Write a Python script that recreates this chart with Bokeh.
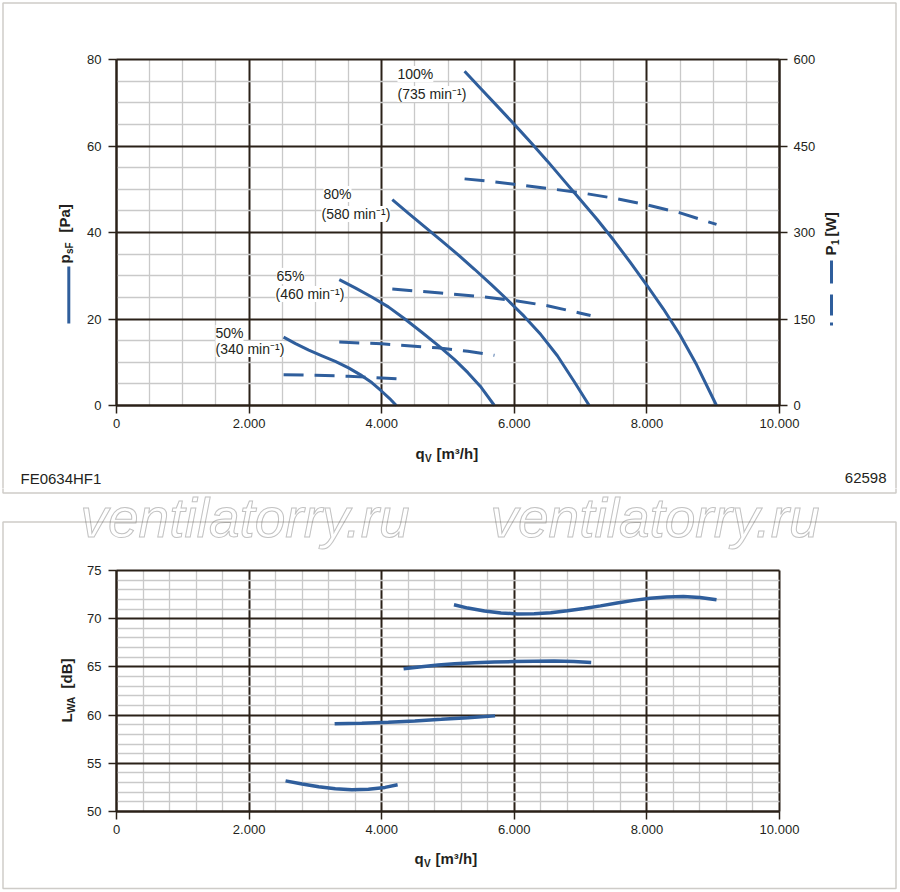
import math
from bokeh.plotting import figure
from bokeh.models import Range1d, LinearAxis, FixedTicker, Label, BoxAnnotation, Grid
from bokeh.layouts import column
from bokeh.embed import file_html
from bokeh.resources import INLINE

# ---------------- data ----------------
QV_TICKS = [0, 2000, 4000, 6000, 8000, 10000]
QV_TICK_LABELS = ["0", "2.000", "4.000", "6.000", "8.000", "10.000"]
PSF_TICKS = [0, 20, 40, 60, 80]
P1_TICKS = [0, 150, 300, 450, 600]
LWA_TICKS = [50, 55, 60, 65, 70, 75]

speed_labels = ["100%", "80%", "65%", "50%"]
rpm_labels = ["(735 min\u207b\u00b9)", "(580 min\u207b\u00b9)", "(460 min\u207b\u00b9)", "(340 min\u207b\u00b9)"]

# static pressure psF [Pa]
q_p100 = [5250, 5500, 5750, 6000, 6250, 6500, 6750, 7000, 7250, 7500, 7750, 8000, 8250, 8500, 8750, 9050]
p_p100 = [77.3, 73.2, 69.1, 65.0, 60.8, 56.5, 52.0, 47.5, 43.0, 38.2, 33.1, 27.8, 22.3, 16.3, 9.4, 0.0]
q_p80 = [4160, 4400, 4650, 4900, 5150, 5400, 5650, 5900, 6150, 6400, 6650, 6900, 7130]
p_p80 = [47.6, 44.5, 41.3, 38.1, 34.9, 31.5, 28.0, 24.4, 20.6, 16.4, 11.5, 5.6, 0.0]
q_p65 = [3360, 3600, 3850, 4100, 4350, 4600, 4850, 5100, 5300, 5500, 5700]
p_p65 = [29.1, 27.2, 25.1, 22.8, 20.0, 17.0, 13.9, 10.6, 7.6, 4.2, 0.0]
q_p50 = [2520, 2700, 2900, 3100, 3300, 3500, 3700, 3850, 4000, 4120, 4220]
p_p50 = [15.8, 14.3, 12.8, 11.5, 10.2, 8.7, 6.9, 5.3, 3.3, 1.6, 0.0]

# power input P1 [W]
q_w100 = [5250, 5600, 6000, 6500, 7000, 7500, 8000, 8500, 9050]
w_100 = [393, 389, 383.5, 376.5, 369, 359.5, 348, 334, 314]
q_w80 = [4160, 4890, 5500, 6000, 6500, 7000, 7150]
w_80 = [202, 195, 189, 182, 173, 160, 156]
q_w65 = [3360, 4000, 4840, 5300, 5700]
w_65 = [110, 107, 100, 94, 87]
q_w50 = [2520, 3000, 3500, 4240]
w_50 = [53.5, 52.3, 50.8, 46.2]

# sound power LWA [dB]
q_l100 = [5090, 5300, 5550, 5800, 6050, 6300, 6550, 6800, 7050, 7300, 7550, 7800, 8050, 8300, 8550, 8800, 9050]
l_100 = [71.45, 71.1, 70.8, 70.6, 70.5, 70.52, 70.62, 70.82, 71.05, 71.33, 71.62, 71.9, 72.12, 72.26, 72.3, 72.2, 71.96]
q_l80 = [4330, 4600, 4850, 5100, 5400, 5700, 6000, 6300, 6600, 6900, 7160]
l_80 = [64.8, 65.02, 65.2, 65.32, 65.42, 65.5, 65.55, 65.59, 65.6, 65.55, 65.46]
q_l65 = [3290, 3700, 4100, 4500, 4900, 5300, 5710]
l_65 = [59.09, 59.15, 59.25, 59.4, 59.56, 59.73, 59.92]
q_l50 = [2550, 2800, 3050, 3300, 3550, 3800, 4050, 4240]
l_50 = [53.18, 52.85, 52.57, 52.37, 52.26, 52.3, 52.5, 52.77]

# ---------------- style / geometry ----------------
DARK = "#2a2118"
LIGHT = "#c9c9c9"
BLUE = "#2f5e9c"
TXT = "#231f20"
BORDER = "#5e5648"
FONT = "Liberation Sans"

W = 898                  # figure width (page px)
H1 = 488                 # top figure height
Y2, H2 = 488, 402        # bottom figure top and height (page px)
FX0, FX1 = 116, 779      # chart area x (page px)
TSHIFT = 0.4             # baseline correction for text labels (fraction of font size)


def dx(px):
    return (px - FX0) / (FX1 - FX0) * 10000


def dy1(py):
    return (405 - py) / 346 * 80


def dw(py):
    return (405 - py) / 346 * 600


def dy2(py):
    return 50 + (811 - py) / 241 * 25


HAS_CB = "cross_bounds" in Grid.properties()


def style_axis(ax, ticks, labels, standoff, bounds, loc):
    ax.fixed_location = loc
    ax.bounds = bounds
    ax.ticker = FixedTicker(ticks=ticks)
    ax.major_label_overrides = {t: l for t, l in zip(ticks, labels)}
    ax.axis_line_color = DARK
    ax.axis_line_width = 2
    ax.major_tick_line_color = DARK
    ax.major_tick_line_width = 1.5
    ax.major_tick_out = 8
    ax.major_tick_in = 0
    ax.minor_tick_line_color = None
    ax.major_label_text_font = FONT
    ax.major_label_text_font_size = "13px"
    ax.major_label_text_color = TXT
    ax.major_label_standoff = standoff


def style_grid(g, ticks, minor, bounds, cross):
    g.ticker = FixedTicker(ticks=ticks, minor_ticks=minor)
    g.bounds = bounds
    if HAS_CB:
        g.cross_bounds = cross
    g.grid_line_color = DARK
    g.grid_line_width = 2
    g.minor_grid_line_color = LIGHT
    g.minor_grid_line_width = 1.3


def label(p, fy, text, px, py, size, bold=False, rotated=False, align="left", bg=None,
          style=None, color=TXT, outline=None):
    if rotated:
        px -= TSHIFT * size
    else:
        py -= TSHIFT * size
    p.add_layout(Label(x=dx(px), y=fy(py), text=text, text_font=FONT, text_font_size=f"{size}px",
                       text_font_style=style or ("bold" if bold else "normal"),
                       text_color=color, text_outline_color=outline,
                       text_align=align, text_baseline="alphabetic",
                       angle=math.pi / 2 if rotated else 0.0, background_fill_color=bg))


def key_segments(p, fy, px, spans):
    # legend key next to an axis title (page pixel spans)
    p.segment(x0=[dx(px)] * len(spans), x1=[dx(px)] * len(spans),
              y0=[fy(a) for a, b in spans], y1=[fy(b) for a, b in spans],
              line_color=BLUE, line_width=3)


def frame_box(p, fy, top, bottom):
    p.add_layout(BoxAnnotation(left=dx(2.5), right=dx(895.5), top=fy(top), bottom=fy(bottom),
                               fill_color=None, line_color=BORDER, line_width=1.5))


def make_fig(h, yr):
    f = figure(width=W, height=h, x_range=Range1d(dx(0), dx(W)), y_range=yr,
               output_backend="svg", toolbar_location=None, title=None,
               min_border_left=0, min_border_right=0, min_border_top=0, min_border_bottom=0)
    f.outline_line_color = None
    f.background_fill_color = "white"
    f.border_fill_color = "white"
    return f


def mask(p, x0, x1, y0, y1):
    # white masks outside the chart area (only needed without grid cross_bounds)
    if HAS_CB:
        return
    xs0, xs1 = dx(0), dx(W)
    p.quad(left=[xs0, x1, x0, x0], right=[x0, xs1, x1, x1],
           bottom=[y0 - 1e4, y0 - 1e4, y1, y0 - 1e4], top=[y1 + 1e4, y1 + 1e4, y1 + 1e4, y0],
           fill_color="white", line_color=None)


# ---------------- top chart ----------------
p1 = make_fig(H1, Range1d(dy1(H1), dy1(0)))
p1.extra_y_ranges = {"power": Range1d(dw(H1), dw(0))}
p1.add_layout(LinearAxis(y_range_name="power"), "right")

style_axis(p1.xaxis[0], QV_TICKS, QV_TICK_LABELS, 5, (0, 10000), 0)
style_axis(p1.yaxis[0], PSF_TICKS, [str(t) for t in PSF_TICKS], 7, (0, 80), 0)
style_axis(p1.yaxis[1], P1_TICKS, [str(t) for t in P1_TICKS], 6, (0, 600), 10000)
style_grid(p1.xgrid[0], QV_TICKS, [v for v in range(500, 10000, 500) if v % 2000], (-1, 10001), (0, 80))
style_grid(p1.ygrid[0], PSF_TICKS, [v for v in range(5, 80, 5) if v % 20], (-0.01, 80.01), (0, 10000))
mask(p1, 0, 10000, 0, 80)

for q, pv in [(q_p100, p_p100), (q_p80, p_p80), (q_p65, p_p65), (q_p50, p_p50)]:
    p1.line(q, pv, line_color=BLUE, line_width=3)
for q, wv in [(q_w100, w_100), (q_w80, w_80), (q_w65, w_65), (q_w50, w_50)]:
    p1.line(q, wv, y_range_name="power", line_color=BLUE, line_width=3, line_dash="20 11")

# curve labels (page pixel positions)
lab_x = [397, 323, 276, 215]
lab_y1 = [79, 199, 281, 338]
lab_x2 = [397, 321, 275, 215]
lab_y2 = [99, 219, 299, 354]
for s, r, x1, y1, x2, y2 in zip(speed_labels, rpm_labels, lab_x, lab_y1, lab_x2, lab_y2):
    label(p1, dy1, s, x1, y1, 14, bg="white")
    label(p1, dy1, r, x2, y2, 14, bg="white")

# axis titles
label(p1, dy1, "q", 415, 458.5, 15, bold=True)
label(p1, dy1, "V", 424.5, 461.5, 10, bold=True)
label(p1, dy1, "[m\u00b3/h]", 436, 458.5, 15, bold=True)

label(p1, dy1, "p", 70, 263, 15, bold=True, rotated=True)
label(p1, dy1, "sF", 72.5, 253.5, 10, bold=True, rotated=True)
label(p1, dy1, "[Pa]", 70, 232, 15, bold=True, rotated=True)
key_segments(p1, dy1, 68.3, [(266, 323)])

label(p1, dy1, "P", 836, 255, 15, bold=True, rotated=True)
label(p1, dy1, "1", 838.5, 244.5, 10, bold=True, rotated=True)
label(p1, dy1, "[W]", 836, 236, 15, bold=True, rotated=True)
key_segments(p1, dy1, 831, [(260, 283), (294, 315), (322, 325)])

label(p1, dy1, "FE0634HF1", 20, 483.5, 15)
label(p1, dy1, "62598", 886, 483.5, 15, align="right")

# upper panel frame (its lower edge continues in the bottom figure)
frame_box(p1, dy1, 2.5, 600)

# ---------------- bottom chart ----------------
p2 = make_fig(H2, Range1d(dy2(Y2 + H2), dy2(Y2)))

style_axis(p2.xaxis[0], QV_TICKS, QV_TICK_LABELS, 5, (0, 10000), 50)
style_axis(p2.yaxis[0], LWA_TICKS, [str(t) for t in LWA_TICKS], 7, (50, 75), 0)
style_grid(p2.xgrid[0], QV_TICKS, [v for v in range(400, 10000, 400) if v % 2000], (-1, 10001), (50, 75))
style_grid(p2.ygrid[0], LWA_TICKS, [v for v in range(51, 75) if v % 5], (49.99, 75.01), (0, 10000))
mask(p2, 0, 10000, 50, 75)

for q, lv in [(q_l100, l_100), (q_l80, l_80), (q_l65, l_65), (q_l50, l_50)]:
    p2.line(q, lv, line_color=BLUE, line_width=3.5)

label(p2, dy2, "q", 414, 863.5, 15, bold=True)
label(p2, dy2, "V", 423.5, 866.5, 10, bold=True)
label(p2, dy2, "[m\u00b3/h]", 435, 863.5, 15, bold=True)

label(p2, dy2, "L", 72, 722, 15, bold=True, rotated=True)
label(p2, dy2, "WA", 74.5, 712.5, 10, bold=True, rotated=True)
label(p2, dy2, "[dB]", 72, 688, 15, bold=True, rotated=True)

for wx in [80, 490]:
    label(p2, dy2, "ventilatorry.ru", wx, 539, 55, style="italic", color="white", outline="#c2c2c2")

frame_box(p2, dy2, 300, 492.5)     # lower edge of the upper panel frame
frame_box(p2, dy2, 521.5, 888)     # lower panel frame

layout = column(p1, p2, spacing=0)
open("out.html", "w").write(file_html(layout, INLINE))
